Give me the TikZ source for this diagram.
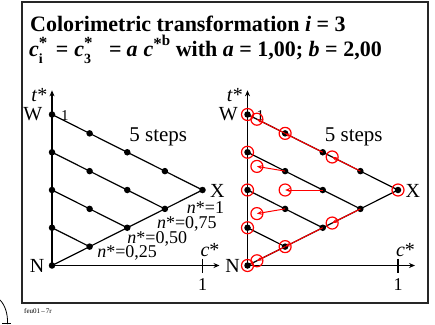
\documentclass[tikz,border=0pt]{standalone}
\usepackage{fontspec}
\setmainfont{Liberation Serif}
\usetikzlibrary{arrows.meta}
\newcommand\supsub[2]{\makebox[0pt][l]{\raisebox{0.36em}{\fontsize{17}{17}\selectfont #1}}\raisebox{-0.32em}{\fontsize{14}{14}\selectfont #2}}
\begin{document}
\begin{tikzpicture}[x=1pt,y=-1pt,
  dot/.style={circle,fill=black,inner sep=0pt,minimum size=6.5pt},
  grid line/.style={line width=1.2pt},
  axis/.style={line width=1.1pt,-{Stealth[length=6pt,width=5pt]}},
  tickmark/.style={line width=1.1pt},
  ring/.style={circle,draw=red,line width=1.2pt,inner sep=0pt,minimum size=12pt},
  shift arrow/.style={draw=red,line width=1pt,-{Stealth[length=5pt,width=4pt]}},
  lbl/.style={inner sep=0pt,font=\fontsize{20}{20}\selectfont},
  small lbl/.style={inner sep=0pt,font=\fontsize{15}{15}\selectfont},
  nlbl/.style={inner sep=0pt,font=\fontsize{18}{18}\selectfont},
  title/.style={inner sep=0pt,anchor=base west,font=\fontsize{22}{22}\selectfont\bfseries}]
\useasboundingbox (0,0) rectangle (435,324);
\draw[line width=1.6pt,black!85] (22,2) rectangle (428,303);
\node[title] (t1) at (30,31) {Colorimetric transformation \textit{i} = 3};
\node[title] (t2) at (29,56) {\textit{c}\supsub{*}{i}\hspace{13pt}=\hspace{6pt}\textit{c}\supsub{*}{3}\hspace{18pt}=\hspace{5pt}\textit{a}\hspace{6pt}\textit{c}\raisebox{0.3em}{\fontsize{17}{17}\selectfont *}\raisebox{0.48em}{\fontsize{15}{15}\selectfont b} with \textit{a} = 1,00; \textit{b} = 2,00};
% grid coordinates
\foreach \p/\ox in {L/52,R/247.5}{
 \begin{scope}[shift={(\ox,265.5)},x=150.5pt,y=151pt]
  \foreach \k in {0,...,4}{\foreach \i in {0,...,\k}{
     \coordinate (\p-\i-\k) at ({\i/4},{\k/4-\i/8});}}
  \coordinate (\p-ttip) at (0,1.16);
  \coordinate (\p-ctip) at (1.113,0);
  \coordinate (\p-tick) at (1,0);
 \end{scope}
}
\begin{scope}[shift={(247.5,265.5)},x=150.5pt,y=151pt]
 \foreach \i/\k/\c/\t in {1/4/0.0625/0.96875, 2/4/0.25/0.875, 3/4/0.5625/0.71875,
    1/3/0.0625/0.65625, 2/3/0.25/0.5, 3/3/0.5625/0.28125,
    1/2/0.0625/0.34375, 2/2/0.25/0.125, 1/1/0.0625/0.03125}
   \coordinate (T-\i-\k) at (\c,\t);
\end{scope}
\foreach \p in {L,R}{
  \foreach \k in {1,...,4} \draw[grid line] (\p-0-\k) -- (\p-\k-\k);
  \draw[grid line] (\p-0-0) -- (\p-4-4);
  \draw[axis] (\p-0-0) -- (\p-ttip);
  \draw[axis] (\p-0-0) -- (\p-ctip);
  \draw[tickmark] ([yshift=7pt]\p-tick) -- ([yshift=-7pt]\p-tick);
  \foreach \k in {0,...,4}{\foreach \i in {0,...,\k}{
     \node[dot] (\p-d-\i-\k) at (\p-\i-\k) {};}}
  \node[lbl,anchor=base east] (\p-W) at ([xshift=-9.5pt,yshift=-6pt]\p-0-4) {W};
  \node[small lbl,anchor=base west] (\p-one) at ([xshift=9pt,yshift=-6pt]\p-0-4) {1};
  \node[lbl,anchor=base east] (\p-t) at ([xshift=-4.5pt,yshift=13pt]\p-0-4) {\textit{t}*};
  \node[lbl,anchor=base east] (\p-N) at ([xshift=-7.5pt,yshift=-6.5pt]\p-0-0) {N};
  \node[lbl,anchor=base west] (\p-X) at ([xshift=7.5pt,yshift=-7pt]\p-4-4) {X};
  \node[lbl,anchor=base] (\p-c) at ([xshift=7.5pt,yshift=9pt]\p-tick) {\textit{c}*};
  \node[nlbl,anchor=base] (\p-cone) at ([yshift=-25pt]\p-tick) {1};
  \node[lbl,anchor=base,font=\fontsize{21}{21}\selectfont] (\p-steps) at ([xshift=31pt,yshift=11pt]\p-2-4) {5 steps};
}
\node[nlbl,anchor=base] (n100) at ([xshift=3pt,yshift=-23pt]L-4-4) {\textit{n}*=1};
\node[nlbl,anchor=base] (n075) at ([xshift=22pt,yshift=-19.5pt]L-3-3) {\textit{n}*=0,75};
\node[nlbl,anchor=base] (n050) at ([xshift=30pt,yshift=-15.5pt]L-2-2) {\textit{n}*=0,50};
\node[nlbl,anchor=base] (n025) at ([xshift=37.5pt,yshift=-10.5pt]L-1-1) {\textit{n}*=0,25};
% transformation arrows and rings
\foreach \i/\k in {1/4,2/4,3/4,1/3,2/3,3/3,1/2,2/2,1/1}
  \draw[shift arrow] (R-\i-\k) -- (T-\i-\k);
\foreach \i/\k in {1/4,2/4,3/4,1/3,2/3,3/3,1/2,2/2,1/1}
  \node[ring] (ring-\i-\k) at (T-\i-\k) {};
\foreach \k in {0,...,4}
  \node[ring] (ring-0-\k) at (R-0-\k) {};
\node[ring] (ring-X) at (R-4-4) {};
% footer
\node[inner sep=0pt,anchor=west,font=\fontsize{7}{7}\selectfont] (code) at (24,311) {feu01\,--\,7r};
\draw[line width=0.8pt] (0,300) .. controls (5,305) and (8,314) .. (7.5,324);
\draw[line width=0.8pt] (2,323) -- (11,323);
\end{tikzpicture}
\end{document}
